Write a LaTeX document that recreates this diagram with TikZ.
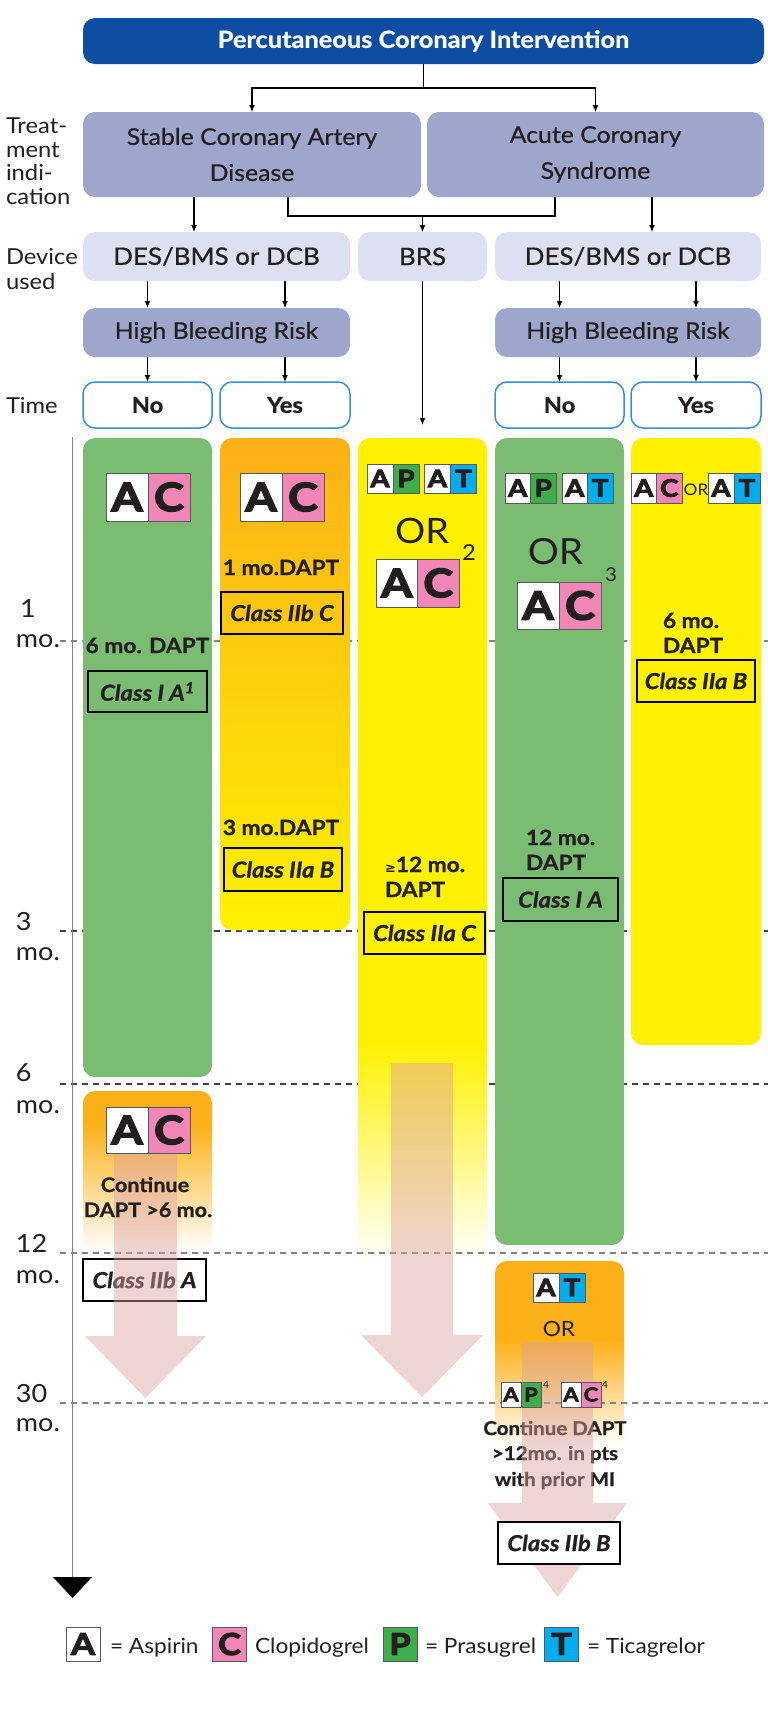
\documentclass[tikz,border=0pt]{standalone}
\usepackage{fontspec}
\setmainfont{Lato}[FakeStretch=1.08, BoldFeatures={FakeBold=1}, BoldItalicFeatures={FakeBold=1}]
\newfontfamily\medfont{Lato}[FakeStretch=1.08, FakeBold=0.7]
\newfontfamily\heavyfont{Lato}[FakeStretch=1.15, FakeBold=4]
\newfontfamily\symfont{DejaVu Sans}
\usetikzlibrary{arrows.meta}

\definecolor{pciblue}{HTML}{0D4EA2}
\definecolor{rowdark}{HTML}{9EA7CB}
\definecolor{rowlight}{HTML}{DDE0F0}
\definecolor{nyborder}{HTML}{3A8FD3}
\definecolor{colgreen}{HTML}{79BC72}
\definecolor{colorange}{HTML}{FCB017}
\definecolor{colyellow}{HTML}{FFF100}
\definecolor{pinkarrow}{HTML}{DCA0A0}
\definecolor{cpink}{HTML}{F287B7}
\definecolor{pgreen}{HTML}{3DAE49}
\definecolor{tblue}{HTML}{00AEEF}
\definecolor{txt}{HTML}{231F20}
\definecolor{cellborder}{HTML}{58595B}
\definecolor{axisgray}{HTML}{808285}
\definecolor{dashdark}{HTML}{414042}
\definecolor{dashlight}{HTML}{808285}

\newcommand{\fsz}[1]{\fontsize{#1}{#1}\selectfont}

\newcommand{\pairbadge}[8]{%
  \node[cell, minimum width=#4, minimum height=#5, font=\fsz{#6}\heavyfont\bfseries, fill=white, anchor=east] (#1a) at (#2,#3) {A};
  \node[cell, minimum width=#4, minimum height=#5, font=\fsz{#6}\heavyfont\bfseries, fill=#8, anchor=west] (#1b) at (#2,#3) {#7};%
}

\tikzset{
  every node/.append style={inner sep=0pt, outer sep=0pt, text=txt},
  hdrbox/.style={rounded corners=12pt, fill=pciblue, text=white, font=\fsz{23.5}\bfseries},
  indbox/.style={rounded corners=12pt, fill=rowdark, font=\fontsize{23}{36}\selectfont\medfont, align=center},
  devbox/.style={rounded corners=12pt, fill=rowlight, font=\fsz{24}\medfont},
  hbrbox/.style={rounded corners=12pt, fill=rowdark, font=\fsz{23}\medfont},
  ynbox/.style={rounded corners=12pt, fill=white, draw=nyborder, line width=1.5pt, font=\fsz{22}\bfseries},
  sidelbl/.style={anchor=north west, align=left},
  flow/.style={draw=black, line width=1.2pt, -{Latex[length=7pt,width=6pt]}},
  conn/.style={draw=black, line width=1.2pt},
  cell/.style={draw=cellborder, line width=0.9pt},
  cls/.style={draw=black, line width=1.3pt, font=\fsz{22}\bfseries\itshape},
  dapt/.style={font=\fsz{21}\bfseries},
  orlbl/.style={font=\fsz{35}},
  tlbl/.style={anchor=base west, font=\fsz{25}},
  tdash/.style={dash pattern=on 6pt off 5pt, line width=1.1pt},
  pinkarr/.style={fill=pinkarrow, fill opacity=0.45},
  legtxt/.style={anchor=base west, font=\fsz{21}}
}

\begin{document}
\begin{tikzpicture}[x=1pt,y=-1pt]
\useasboundingbox (0,0) rectangle (768,1727);
\fill[white] (0,0) rectangle (768,1727);

% ---------- time grid (behind columns) ----------
\coordinate (m1a) at (60,641);   \coordinate (m1b) at (768,641);
\coordinate (m3a) at (60,931);   \coordinate (m3b) at (768,931);
\coordinate (m6a) at (60,1084);  \coordinate (m6b) at (768,1084);
\coordinate (m12a) at (60,1253); \coordinate (m12b) at (768,1253);
\coordinate (m30a) at (60,1403); \coordinate (m30b) at (768,1403);
\draw[tdash, draw=dashlight] (m1a) -- (m1b);
\draw[tdash, draw=dashdark] (m3a) -- (m3b);
\draw[tdash, draw=dashdark] (m6a) -- (m6b);

% ---------- header flow ----------
\node[hdrbox, minimum width=681, minimum height=46] (pci) at (423.5,41) {Percutaneous Coronary Intervention};
\node[indbox, minimum width=338, minimum height=85] (scad) at (252,154.5) {Stable Coronary Artery\\Disease};
\node[indbox, minimum width=337, minimum height=85] (acs) at (595.5,154.5) {Acute Coronary\\Syndrome};
\node[devbox, minimum width=267, minimum height=49] (des1) at (216.5,256.5) {DES/BMS or DCB};
\node[devbox, minimum width=129, minimum height=49] (brs) at (422.5,256.5) {BRS};
\node[devbox, minimum width=266, minimum height=49] (des2) at (628,256.5) {DES/BMS or DCB};
\node[hbrbox, minimum width=267, minimum height=49] (hbr1) at (216.5,332.5) {High Bleeding Risk};
\node[hbrbox, minimum width=266, minimum height=49] (hbr2) at (628,332.5) {High Bleeding Risk};
\node[ynbox, minimum width=129, minimum height=46] (no1) at (147.5,405) {No};
\node[ynbox, minimum width=130, minimum height=46] (yes1) at (285,405) {Yes};
\node[ynbox, minimum width=129, minimum height=46] (no2) at (559.5,405) {No};
\node[ynbox, minimum width=130, minimum height=46] (yes2) at (696,405) {Yes};

\node[sidelbl, font=\fontsize{22}{23.5}\selectfont] (lblind) at (6,118) {Treat-\\ment\\indi-\\cation};
\node[sidelbl, font=\fontsize{22}{25}\selectfont] (lbldev) at (6,248) {Device\\used};
\node[anchor=base west, font=\fsz{22}] (lbltime) at (6,413) {Time};

\coordinate (tj) at (423.5,88);
\coordinate (xl) at (194,0);
\coordinate (xb1) at (288,0);
\coordinate (xb2) at (555,0);
\coordinate (xr) at (652,0);
\coordinate (brj) at (422.5,216);
\coordinate (brsend) at (422.5,425);
\draw[conn] (pci.south) -- (tj);
\draw[flow] (tj) -| (scad.north);
\draw[flow] (tj) -| (acs.north);
\draw[flow] (xl |- scad.south) -- (xl |- des1.north);
\draw[conn] (xb1 |- scad.south) |- (brj) -| (xb2 |- acs.south);
\draw[flow] (brj) -- (brs.north);
\draw[flow] (xr |- acs.south) -- (xr |- des2.north);
\draw[flow] (des1.south -| no1) -- (hbr1.north -| no1);
\draw[flow] (des1.south -| yes1) -- (hbr1.north -| yes1);
\draw[flow] (des2.south -| no2) -- (hbr2.north -| no2);
\draw[flow] (des2.south -| yes2) -- (hbr2.north -| yes2);
\draw[flow] (hbr1.south -| no1) -- (no1.north);
\draw[flow] (hbr1.south -| yes1) -- (yes1.north);
\draw[flow] (hbr2.south -| no2) -- (no2.north);
\draw[flow] (hbr2.south -| yes2) -- (yes2.north);
\draw[flow] (brs.south) -- (brsend);

% ---------- columns ----------
\fill[colgreen, rounded corners=12pt] (83,438) rectangle (212,1077);
\shade[top color=colorange, bottom color=colyellow, rounded corners=12pt] (220,438) rectangle (350,930);
\fill[colyellow, rounded corners=12pt] (358,438) rectangle (487,1060);
\shade[top color=colyellow, bottom color=white] (358,1043) rectangle (487,1262);
\fill[colgreen, rounded corners=12pt] (495,438) rectangle (624,1245);
\fill[colyellow, rounded corners=12pt] (631,438) rectangle (761,1045);
\fill[colorange, rounded corners=12pt] (83,1091) rectangle (212,1140);
\shade[top color=colorange, bottom color=white] (83,1123) rectangle (212,1252);
\fill[colorange, rounded corners=12pt] (495,1261) rectangle (624,1360);
\shade[top color=colorange, bottom color=white] (495,1340) rectangle (624,1447);

\draw[tdash, draw=dashlight] (m12a) -- (m12b);
\draw[tdash, draw=dashlight] (m30a) -- (m30b);

% ---------- time axis ----------
\coordinate (axtop) at (72,437);
\coordinate (axbot) at (72,1580);
\draw[axisgray, line width=1pt] (axtop) -- (axbot);
\fill[black] (53,1577) -- (92,1577) -- (72.5,1598) -- cycle;
\node[tlbl] (t1n) at (20,617) {1};
\node[tlbl] (t1m) at (16,647) {mo.};
\node[tlbl] (t3n) at (16,930) {3};
\node[tlbl] (t3m) at (16,960) {mo.};
\node[tlbl] (t6n) at (16,1081) {6};
\node[tlbl] (t6m) at (16,1113) {mo.};
\node[tlbl] (t12n) at (16,1252) {12};
\node[tlbl] (t12m) at (16,1283) {mo.};
\node[tlbl] (t30n) at (16,1402) {30};
\node[tlbl] (t30m) at (16,1431) {mo.};

% ---------- column 1: SCAD, no HBR ----------
\pairbadge{cA}{148}{497}{42}{48}{39}{C}{cpink}
\node[dapt, anchor=base] (c1d) at (147.5,653) {6 mo. DAPT};
\node[cls, minimum width=119, minimum height=41] (c1cls) at (147.5,691.5) {Class I A\textsuperscript{1}};

% ---------- column 2: SCAD, HBR ----------
\pairbadge{cB}{282}{497}{42}{48}{39}{C}{cpink}
\node[dapt, anchor=base] (c2d1) at (281,575) {1 mo.DAPT};
\node[cls, minimum width=122, minimum height=42] (c2cls1) at (282,613) {Class IIb C};
\node[dapt, anchor=base] (c2d3) at (281,835) {3 mo.DAPT};
\node[cls, minimum width=118, minimum height=43] (c2cls3) at (283,869.5) {Class IIa B};

% ---------- column 3: BRS ----------
\pairbadge{cCp}{393}{478.5}{26}{29}{24}{P}{pgreen}
\pairbadge{cCt}{450.5}{478.5}{26}{29}{24}{T}{tblue}
\node[orlbl] (c3or) at (422,530.5) {OR};
\node[font=\fsz{22}] (c3sup) at (469,553) {2};
\pairbadge{cCc}{417.5}{583}{41.5}{48}{39}{C}{cpink}
\node[dapt, anchor=base west] (c3d1) at (385,872) {{\symfont\fsz{13}≥}12 mo.};
\node[dapt, anchor=base west] (c3d2) at (385,897) {DAPT};
\node[cls, minimum width=121, minimum height=42] (c3cls) at (424.5,933) {Class IIa C};

% ---------- column 4: ACS, no HBR ----------
\pairbadge{cDp}{530.5}{488}{25.5}{30}{24}{P}{pgreen}
\pairbadge{cDt}{587.5}{488}{25.5}{30}{24}{T}{tblue}
\node[orlbl, font=\fsz{36}] (c4or) at (555.5,551.5) {OR};
\node[font=\fsz{19}] (c4sup) at (611,575) {3};
\pairbadge{cDc}{559}{605.5}{42}{47}{39}{C}{cpink}
\node[dapt, anchor=base west] (c4d1) at (526,845) {12 mo.};
\node[dapt, anchor=base west] (c4d2) at (526,870) {DAPT};
\node[cls, minimum width=115, minimum height=43] (c4cls) at (560.5,899.5) {Class I A};

% ---------- column 5: ACS, HBR ----------
\pairbadge{cEc}{656.5}{488}{25.5}{30}{24}{C}{cpink}
\node[font=\fsz{16}] (c5or) at (696,490) {OR};
\pairbadge{cEt}{734}{488}{26}{30}{24}{T}{tblue}
\node[dapt, anchor=base west] (c5d1) at (663,628) {6 mo.};
\node[dapt, anchor=base west] (c5d2) at (663,653) {DAPT};
\node[cls, minimum width=118, minimum height=42] (c5cls) at (696,681) {Class IIa B};

% ---------- column 1 continuation ----------
\node[cls, fill=white, minimum width=123, minimum height=42] (c1bcls) at (144.5,1280) {Class IIb A};
\fill[pinkarr] (114,1153) -- (177,1153) -- (177,1336) -- (206,1336) -- (145.5,1398) -- (85,1336) -- (114,1336) -- cycle;
\pairbadge{cF}{148}{1130}{42}{46}{39}{C}{cpink}
\node[font=\fsz{20}\bfseries, anchor=base] (c1bt1) at (145,1192) {Continue};
\node[font=\fsz{20}\bfseries, anchor=base] (c1bt2) at (148,1217) {DAPT >6 mo.};

% ---------- BRS arrow ----------
\fill[pinkarr] (391,1063) -- (453,1063) -- (453,1335) -- (483,1335) -- (422,1397) -- (361,1335) -- (391,1335) -- cycle;

% ---------- column 4 continuation ----------
\pairbadge{cGt}{559}{1287.5}{26}{29}{24}{T}{tblue}
\node[font=\fsz{21}] (c4bor) at (559,1328.5) {OR};
\node[font=\fsz{19}\bfseries, anchor=base] (c4bt1) at (555,1435) {Continue DAPT};
\node[font=\fsz{19}\bfseries, anchor=base] (c4bt2) at (555,1460) {>12mo. in pts};
\node[font=\fsz{19}\bfseries, anchor=base] (c4bt3) at (555,1486) {with prior MI};
\fill[pinkarr] (522,1342) -- (593,1342) -- (593,1503) -- (627,1503) -- (557.5,1597) -- (488,1503) -- (522,1503) -- cycle;
\pairbadge{cGp}{521}{1394.5}{20}{25}{19}{P}{pgreen}
\node[font=\fsz{10}] (c4bs1) at (546,1385) {4};
\pairbadge{cGc}{581}{1394.5}{20}{25}{19}{C}{cpink}
\node[font=\fsz{10}] (c4bs2) at (605,1385) {4};
\node[cls, fill=white, minimum width=122, minimum height=42] (c4bcls) at (559,1543) {Class IIb B};

% ---------- legend ----------
\node[cell, fill=white, minimum width=34, minimum height=34, font=\fsz{30}\heavyfont\bfseries] (lgA) at (83,1644) {A};
\node[legtxt] (lgAt) at (110,1653) {= Aspirin};
\node[cell, fill=cpink, minimum width=34, minimum height=34, font=\fsz{30}\heavyfont\bfseries] (lgC) at (229.5,1644) {C};
\node[legtxt] (lgCt) at (255,1653) {Clopidogrel};
\node[cell, fill=pgreen, minimum width=34, minimum height=34, font=\fsz{30}\heavyfont\bfseries] (lgP) at (400,1644) {P};
\node[legtxt] (lgPt) at (425,1653) {= Prasugrel};
\node[cell, fill=tblue, minimum width=34, minimum height=34, font=\fsz{30}\heavyfont\bfseries] (lgT) at (561.5,1644) {T};
\node[legtxt] (lgTt) at (587,1653) {= Ticagrelor};
\end{tikzpicture}
\end{document}
